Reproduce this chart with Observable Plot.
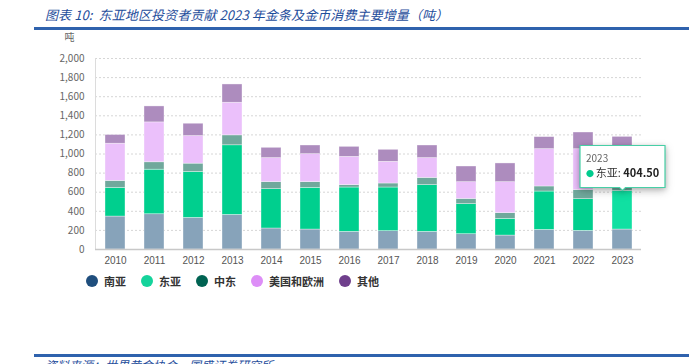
<!DOCTYPE html>
<html><head><meta charset="utf-8">
<script src="https://cdn.jsdelivr.net/npm/d3@7"></script>
<script src="https://cdn.jsdelivr.net/npm/@observablehq/plot@0.6"></script>
<style>
body{margin:0;width:689px;height:364px;overflow:hidden;position:relative;background:#fff;font-family:"Noto Sans CJK SC","Noto Sans",sans-serif;}
#title{position:absolute;left:45px;top:5px;font-size:13px;font-style:italic;color:#1f4e9c;white-space:nowrap;letter-spacing:0.1px;}
.rule{position:absolute;left:34px;right:0;height:3px;background:#2f62ad;}
#chart{position:absolute;left:0;top:30px;}
#legend{position:absolute;left:86px;top:273px;display:flex;align-items:center;font-size:11px;font-weight:bold;color:#333;}
#legend .item{display:flex;align-items:center;margin-right:15px;}
#legend .sw{width:12px;height:12px;border-radius:50%;margin-right:6px;}
#source{position:absolute;left:45px;top:356px;font-size:12px;font-style:italic;color:#1f4e9c;white-space:nowrap;}
#chart svg g[aria-label="tip"]{filter:drop-shadow(0 1px 2px rgba(0,0,0,0.18));}
</style></head>
<body>
<div id="title">图表 10:&nbsp; 东亚地区投资者贡献 2023 年金条及金币消费主要增量（吨）</div>
<div class="rule" style="top:27px"></div>
<div id="chart"></div>
<div id="legend"></div>
<div class="rule" style="top:354px"></div>
<div id="source">资料来源：世界黄金协会，国盛证券研究所</div>
<script>
const years = ["2010","2011","2012","2013","2014","2015","2016","2017","2018","2019","2020","2021","2022","2023"];
const seriesNames = ["南亚","东亚","中东","美国和欧洲","其他"];
const southAsia  = [345,369,331,362,220,209,185,192,185,160,146,205,195,209];
const eastAsia   = [300,467,481,729,412,437,464,457,489,315,175,402,332,404.5];
const middleEast = [73,77,87,104,73,59,25,42,76,55,59,53,94,100];
const usEurope   = [390,418,289,342,252,293,296,227,207,175,325,391,429,250];
const others     = [91,167,129,191,108,91,105,126,132,164,196,126,175,216];
const yTicks = [0,200,400,600,800,1000,1200,1400,1600,1800,2000];
const legendColors = ["#1f4e7d","#15d39b","#006352","#dd8ef7","#6f3f8c"];
const barColors    = ["#87a3ba","#00cf8e","#70a89c","#ebc0fb","#ad8cbe"];
const highlightColor = "#10e0a2";
const highlightYear = "2023";
const highlightSeries = "东亚";

const seriesValues = [southAsia, eastAsia, middleEast, usEurope, others];
const rows = [];
seriesNames.forEach((s, i) => years.forEach((y, j) => rows.push({year: y, series: s, value: seriesValues[i][j], si: i})));

const tipRow = [{year: highlightYear, v: southAsia[13] + eastAsia[13], label: "东亚", val: eastAsia[13].toFixed(2)}];

const chart = Plot.plot({
  width: 689,
  height: 240,
  marginLeft: 95,
  marginRight: 48,
  marginTop: 28,
  marginBottom: 21,
  style: {fontFamily: "'Liberation Sans', Arial, sans-serif", fontSize: "10px", color: "#666"},
  x: {domain: years, paddingInner: 0.49, paddingOuter: 0.245, label: null},
  y: {domain: [0, 2000], label: null},
  marks: [
    Plot.gridY(yTicks, {stroke: "#d6d6d6", strokeOpacity: 1, strokeDasharray: "2,2"}),
    Plot.frame({anchor: "left", stroke: "#dcdcdc"}),
    Plot.barY(rows, Plot.stackY({
      x: "year", y: "value", order: null,
      fill: d => (d.year === highlightYear && d.series === highlightSeries) ? highlightColor : barColors[d.si],
      stroke: "#ffffff", strokeOpacity: 0.6, strokeWidth: 0.6
    })),
    Plot.ruleY([0], {stroke: "#c8c8c8", strokeWidth: 1.5}),
    Plot.axisY(yTicks, {tickSize: 0, tickPadding: 11, tickFormat: d3.format(","), fill: "#666", label: "吨", labelAnchor: "top", labelArrow: "none", labelOffset: 31, fontFamily: "'Noto Sans CJK SC'"}),
    Plot.axisX({tickSize: 0, tickPadding: 7, fill: "#555"}),
    Plot.tip(tipRow, {x: "year", y: "v", title: d => `${d.year}\n● ${d.label}: ${d.val}`, anchor: "bottom",
      fill: "white", stroke: "#47cfa6", strokeWidth: 1.2, pointerSize: 6, textPadding: 6, lineHeight: 1.35,
      fontSize: 11, fontFamily: "'Noto Sans CJK SC', 'Liberation Sans', sans-serif"})
  ],
  color: {type: "identity"}
});
document.getElementById("chart").appendChild(chart);

// style tooltip text lines
d3.select(chart).selectAll('g[aria-label="tip"] text').each(function() {
  const tspans = d3.select(this).selectAll("tspan").nodes();
  if (tspans.length >= 2) {
    d3.select(tspans[0]).attr("fill", "#666").attr("font-size", 10);
    const t = d3.select(tspans[1]);
    const d = tipRow[0];
    t.text("");
    t.append("tspan").attr("fill", "#00cc8e").attr("font-size", 8).text("● ");
    t.append("tspan").attr("fill", "#333").text(d.label + ": ");
    t.append("tspan").attr("fill", "#222").attr("font-weight", "bold").text(d.val);
  }
});

const legend = d3.select("#legend");
seriesNames.forEach((s, i) => {
  const it = legend.append("div").attr("class", "item");
  it.append("div").attr("class", "sw").style("background", legendColors[i]);
  it.append("span").text(s);
});
</script>
</body></html>
